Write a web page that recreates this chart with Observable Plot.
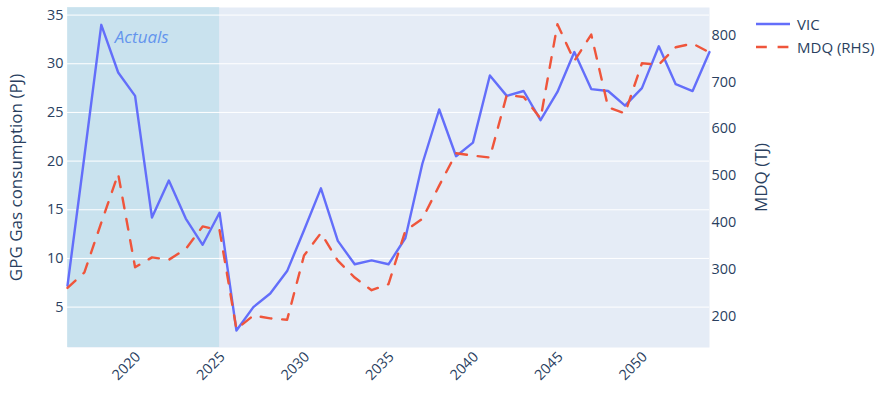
<!DOCTYPE html>
<html><head><meta charset="utf-8">
<script src="https://cdn.jsdelivr.net/npm/d3@7"></script>
<script src="https://cdn.jsdelivr.net/npm/@observablehq/plot@0.6"></script>
<style>
body{margin:0;background:#fff;font-family:"Open Sans",sans-serif;}
#wrap{position:relative;width:879px;height:393px;}
#legend{position:absolute;left:756px;top:12px;font-size:15px;color:#2a3f5f;font-family:"Open Sans",sans-serif;}
.row{display:flex;align-items:center;height:23px;}
.row svg{margin-right:7px;}
</style></head><body><div id="wrap"></div>
<script>
const years=[2016,2017,2018,2019,2020,2021,2022,2023,2024,2025,2026,2027,2028,2029,2030,2031,2032,2033,2034,2035,2036,2037,2038,2039,2040,2041,2042,2043,2044,2045,2046,2047,2048,2049,2050,2051,2052,2053,2054];
const vic=[7.2,20.5,34.0,29.1,26.7,14.2,18.0,14.1,11.4,14.7,2.6,5.0,6.4,8.7,12.9,17.2,11.8,9.4,9.8,9.4,12.1,19.7,25.3,20.5,21.9,28.8,26.7,27.2,24.2,27.1,31.2,27.4,27.2,25.7,27.5,31.8,27.9,27.2,31.2];
const mdq=[261,294,400,504,305,326,321,344,392,384,173,202,196,193,330,378,319,283,256,269,383,408,479,548,543,539,672,668,622,823,745,801,646,633,740,737,774,782,763];
const leftTicks=[5,10,15,20,25,30,35];
const rightTicks=[200,300,400,500,600,700,800];
const xTicks=[2020,2025,2030,2035,2040,2045,2050];
const actuals=[{x1:2016,x2:2025}];
const annotation=[{x:2018.8,y:32.7,text:"Actuals"}];
const seriesNames=["VIC","MDQ (RHS)"];
const leftDomain=[0.85,35.78];
const rightDomain=[133.9,858.8];
const toLeft=d3.scaleLinear().domain(rightDomain).range(leftDomain);
const data=years.map((y,i)=>({year:y,vic:vic[i],mdqL:toLeft(mdq[i])}));
const font='"Open Sans",sans-serif';
const chart=Plot.plot({
  width:879,height:393,marginLeft:67,marginRight:170,marginTop:7,marginBottom:46,
  style:{fontFamily:font,fontSize:"14px",color:"#2a3f5f",background:"white",overflow:"visible"},
  x:{domain:[2016,2054]},
  y:{domain:leftDomain},
  marks:[
    Plot.frame({fill:"#E5ECF6",stroke:null}),
    Plot.rect(actuals,{x1:"x1",x2:"x2",fill:"lightblue",fillOpacity:0.5}),
    Plot.gridY(leftTicks,{stroke:"white",strokeOpacity:1,strokeWidth:1}),
    Plot.axisY(leftTicks,{anchor:"left",tickSize:0,tickPadding:4,label:null,fontSize:14.4,fill:"#2a3f5f"}),
    Plot.axisY(rightTicks.map(toLeft),{anchor:"right",tickSize:0,tickPadding:2,label:null,fontSize:14.4,fill:"#2a3f5f",tickFormat:d=>String(Math.round(toLeft.invert(d)))}),
    Plot.axisX(xTicks,{anchor:"bottom",tickSize:0,tickPadding:7,dx:3,tickRotate:-45,label:null,fontSize:14.4,fill:"#2a3f5f",tickFormat:d=>String(d)}),
    Plot.text(["GPG Gas consumption (PJ)"],{frameAnchor:"left",dx:-51,rotate:-90,textAnchor:"middle",fontSize:17,fill:"#2a3f5f",text:d=>d}),
    Plot.text(["MDQ (TJ)"],{frameAnchor:"right",dx:52,rotate:-90,textAnchor:"middle",fontSize:17,fill:"#2a3f5f",text:d=>d}),
    Plot.line(data,{x:"year",y:"vic",stroke:"#636efa",strokeWidth:2.4}),
    Plot.line(data,{x:"year",y:"mdqL",stroke:"#EF553B",strokeWidth:2.4,strokeDasharray:"10.8,10.8"}),
    Plot.text(annotation,{x:"x",y:"y",text:"text",textAnchor:"start",fontStyle:"italic",fontSize:17,fill:"#6495ED"})
  ]
});
const wrap=document.getElementById("wrap");
wrap.appendChild(chart);
const leg=document.createElement("div");leg.id="legend";
const colors=["#636efa","#EF553B"],dashes=["","10.8,10.8"];
seriesNames.forEach((n,i)=>{
  const r=document.createElement("div");r.className="row";
  r.innerHTML=`<svg width="34" height="10"><line x1="0" x2="34" y1="5" y2="5" stroke="${colors[i]}" stroke-width="2.4" stroke-dasharray="${dashes[i]}"/></svg><span>${n}</span>`;
  leg.appendChild(r);
});
wrap.appendChild(leg);
</script></body></html>
